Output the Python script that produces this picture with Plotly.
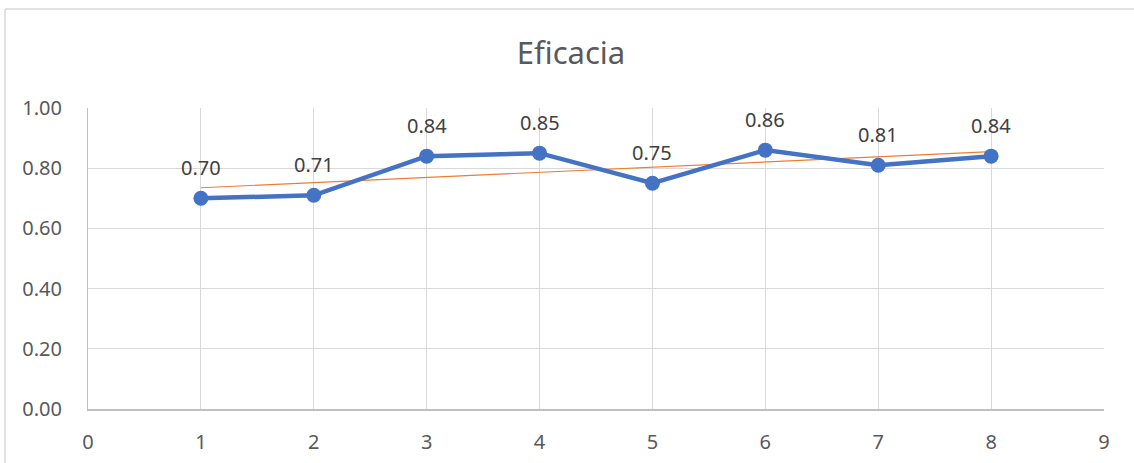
import numpy as np
import plotly.graph_objects as go

# Efficacy per period
periodos = [1, 2, 3, 4, 5, 6, 7, 8]
eficacia = [0.70, 0.71, 0.84, 0.85, 0.75, 0.86, 0.81, 0.84]
y_ticks = [0.0, 0.2, 0.4, 0.6, 0.8, 1.0]
x_ticks = list(range(0, 10))

W, H = 1134, 463
M_L, M_R, M_T, M_B = 88, 30, 108, 54
PW, PH = W - M_L - M_R, H - M_T - M_B
FONT = "Noto Sans, sans-serif"

# Linear trend line through the series
coef = np.polyfit(periodos, eficacia, 1)
trend_x = [periodos[0], periodos[-1]]
trend_y = [float(np.polyval(coef, v)) for v in trend_x]

fig = go.Figure()
fig.add_trace(go.Scatter(
    x=trend_x, y=trend_y, mode="lines",
    line=dict(color="#ED7D31", width=1.2), hoverinfo="skip", showlegend=False,
))
fig.add_trace(go.Scatter(
    x=periodos, y=eficacia, mode="lines+markers",
    line=dict(color="#4472C4", width=4.5),
    marker=dict(color="#4472C4", size=15),
    showlegend=False,
))

for xv, yv in zip(periodos, eficacia):
    fig.add_annotation(
        x=xv, y=yv, text=f"{yv:.2f}", showarrow=False,
        yshift=31, yanchor="middle",
        font=dict(family=FONT, size=20, color="#404040"),
    )

# Chart frame (left and top edges)
px = lambda p: (p - M_L) / PW
py = lambda p: 1 - (p - M_T) / PH
fig.add_shape(type="line", xref="paper", yref="paper",
              x0=px(5), x1=px(5), y0=py(9), y1=py(470),
              line=dict(color="#D9D9D9", width=1.5))
fig.add_shape(type="line", xref="paper", yref="paper",
              x0=px(5), x1=px(1140), y0=py(9), y1=py(9),
              line=dict(color="#D9D9D9", width=1.5))

fig.update_layout(
    width=W, height=H,
    margin=dict(l=M_L, r=M_R, t=M_T, b=M_B, autoexpand=False),
    paper_bgcolor="white", plot_bgcolor="white",
    title=dict(text="Eficacia", x=571 / W, xref="container", xanchor="center",
               y=1 - 53 / H, yref="container", yanchor="middle",
               font=dict(family=FONT, size=31, color="#595959")),
    xaxis=dict(
        range=[0, 9], tickvals=x_ticks, ticktext=[str(v) for v in x_ticks],
        showgrid=True, gridcolor="#D9D9D9", gridwidth=1,
        showline=True, linecolor="#BFBFBF", linewidth=1.5,
        zeroline=False, ticks="", ticklabelstandoff=14, automargin=False,
        tickfont=dict(family=FONT, size=20, color="#595959"),
        mirror=False,
    ),
    yaxis=dict(
        range=[0, 1.0], tickvals=y_ticks, ticktext=[f"{v:.2f}" for v in y_ticks],
        showgrid=True, gridcolor="#D9D9D9", gridwidth=1,
        showline=True, linecolor="#BFBFBF", linewidth=1,
        zeroline=False, ticks="", ticklabelstandoff=21, automargin=False,
        tickfont=dict(family=FONT, size=20, color="#595959"),
    ),
)

fig.write_html("out.html")
